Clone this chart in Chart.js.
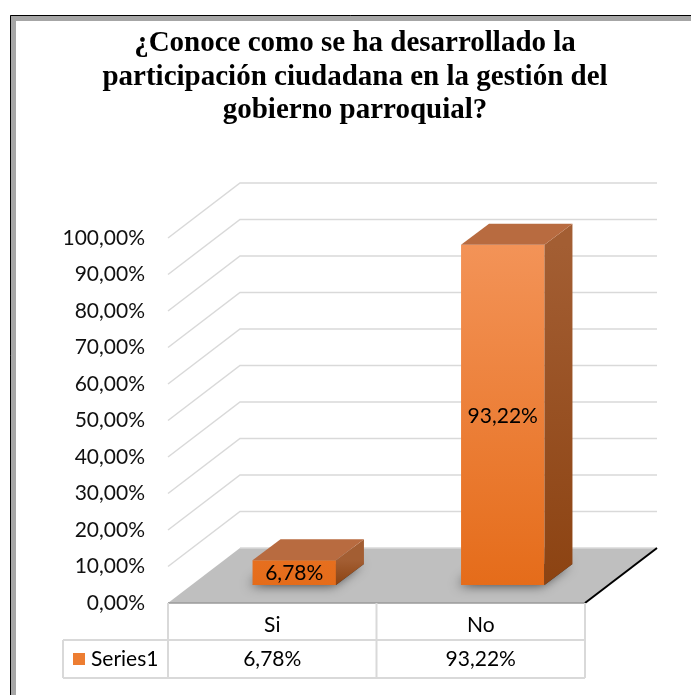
<!DOCTYPE html>
<html>
<head>
<meta charset="utf-8">
<script src="https://cdn.jsdelivr.net/npm/chart.js@4.4.0/dist/chart.umd.min.js"></script>
<style>
  html, body { margin: 0; padding: 0; background: #fff; }
  #wrap { width: 691px; height: 695px; }
</style>
</head>
<body>
<div id="wrap"><canvas id="myChart" width="691" height="695"></canvas></div>
<script>
const titleLines = [
  "¿Conoce como se ha desarrollado la",
  "participación ciudadana en la gestión del",
  "gobierno parroquial?"
];
const categories = ["Si", "No"];
const seriesName = "Series1";
const values = [6.78, 93.22];
const yTicks = [0, 10, 20, 30, 40, 50, 60, 70, 80, 90, 100];

const fmt = (v) => v.toFixed(2).replace(".", ",") + "%";
const FONT = "Lato, 'Open Sans', sans-serif";

// 3d look
const wallDX = 72, wallDY = 55;   // depth of floor / walls
const barShiftX = 22, barShiftY = 18; // bars sit inside the floor
const barDX = 28, barDY = 21;     // bar depth

const frame3d = {
  id: "frame3d",
  beforeDraw(chart) {
    const c = chart.ctx;
    c.save();
    c.fillStyle = "#fff";
    c.fillRect(0, 0, chart.width, chart.height);
    // outer border
    c.fillStyle = "#a6a6a6";
    c.fillRect(10, 15, chart.width, 6);
    c.fillRect(10, 15, 6, chart.height);
    c.strokeStyle = "#000";
    c.lineWidth = 1;
    c.beginPath();
    c.moveTo(10.5, chart.height);
    c.lineTo(10.5, 15.5);
    c.lineTo(chart.width, 15.5);
    c.stroke();
    // title
    c.fillStyle = "#000";
    c.font = "bold 29px 'Liberation Serif', 'Times New Roman', serif";
    c.textAlign = "center";
    c.textBaseline = "middle";
    const ys = [44, 78, 111];
    titleLines.forEach((t, i) => c.fillText(t, 355, ys[i]));
    c.restore();
  },
  beforeDatasetsDraw(chart) {
    const c = chart.ctx;
    const y = chart.scales.y;
    const a = chart.chartArea;
    const y0 = y.getPixelForValue(0);
    c.save();
    // floor
    c.fillStyle = "#bfbfbf";
    c.beginPath();
    c.moveTo(a.left, y0);
    c.lineTo(a.right, y0);
    c.lineTo(a.right + wallDX, y0 - wallDY);
    c.lineTo(a.left + wallDX, y0 - wallDY);
    c.closePath();
    c.fill();
    // grid lines on side + back walls
    c.strokeStyle = "#d9d9d9";
    c.lineWidth = 1.5;
    yTicks.forEach((v) => {
      const py = y.getPixelForValue(v);
      c.beginPath();
      if (v > 0) c.moveTo(a.left, py);
      else c.moveTo(a.left + wallDX, py - wallDY);
      c.lineTo(a.left + wallDX, py - wallDY);
      c.lineTo(a.right + wallDX, py - wallDY);
      c.stroke();
    });
    // floor edges
    c.strokeStyle = "#9a9a9a";
    c.lineWidth = 1.5;
    c.beginPath();
    c.moveTo(a.left, y0);
    c.lineTo(a.right, y0);
    c.stroke();
    c.strokeStyle = "#000";
    c.lineWidth = 2;
    c.beginPath();
    c.moveTo(a.right, y0);
    c.lineTo(a.right + wallDX, y0 - wallDY);
    c.stroke();
    // soft shadows at bar bases
    const meta = chart.getDatasetMeta(0);
    meta.data.forEach((bar) => {
      const l = bar.x - bar.width / 2 + barShiftX;
      const r = bar.x + bar.width / 2 + barShiftX;
      const b = bar.base - barShiftY;
      c.save();
      c.shadowColor = "rgba(0,0,0,0.8)";
      c.shadowBlur = 12;
      c.shadowOffsetX = -3;
      c.fillStyle = "rgba(40,40,40,0.9)";
      c.beginPath();
      c.moveTo(l, b);
      c.lineTo(r, b);
      c.lineTo(r + barDX, b - barDY);
      c.lineTo(l + barDX, b - barDY);
      c.closePath();
      c.fill();
      c.restore();
    });
    c.translate(barShiftX, -barShiftY);
  },
  afterDatasetsDraw(chart) {
    const c = chart.ctx;
    const meta = chart.getDatasetMeta(0);
    meta.data.forEach((bar, i) => {
      const l = bar.x - bar.width / 2;
      const r = bar.x + bar.width / 2;
      // side face
      const g = c.createLinearGradient(0, bar.y, 0, bar.base);
      g.addColorStop(0, "#a35e33");
      g.addColorStop(1, "#8c4312");
      c.fillStyle = g;
      c.beginPath();
      c.moveTo(r, bar.y);
      c.lineTo(r + barDX, bar.y - barDY);
      c.lineTo(r + barDX, bar.base - barDY);
      c.lineTo(r, bar.base);
      c.closePath();
      c.fill();
      // top face
      c.fillStyle = "#b86b40";
      c.beginPath();
      c.moveTo(l, bar.y);
      c.lineTo(l + barDX, bar.y - barDY);
      c.lineTo(r + barDX, bar.y - barDY);
      c.lineTo(r, bar.y);
      c.closePath();
      c.fill();
      // value label
      c.fillStyle = "#000";
      c.font = "21px " + FONT;
      c.textAlign = "center";
      c.textBaseline = "middle";
      c.fillText(fmt(values[i]), bar.x, (bar.y + bar.base) / 2 + 1);
    });
    c.restore();
  },
  afterDraw(chart) {
    const c = chart.ctx;
    const a = chart.chartArea;
    const x = chart.scales.x;
    const top = a.bottom, row1 = top + 37, row2 = top + 75;
    const legL = 63;
    const px = categories.map((_, i) => x.getPixelForValue(i));
    const bounds = [a.left];
    for (let i = 0; i < px.length - 1; i++) bounds.push((px[i] + px[i + 1]) / 2);
    bounds.push(a.right);
    c.save();
    c.strokeStyle = "#d9d9d9";
    c.lineWidth = 2;
    c.beginPath();
    bounds.forEach((bx) => { c.moveTo(bx, top); c.lineTo(bx, row2); });
    c.moveTo(legL, row1); c.lineTo(a.right, row1);
    c.moveTo(legL, row2); c.lineTo(a.right, row2);
    c.moveTo(legL, row1); c.lineTo(legL, row2);
    c.stroke();
    // legend key
    c.fillStyle = "#ed7d31";
    c.fillRect(legL + 10, row1 + 13, 12, 12);
    c.fillStyle = "#000";
    c.font = "21px " + FONT;
    c.textBaseline = "middle";
    c.textAlign = "left";
    c.fillText(seriesName, legL + 28, row1 + 19);
    c.textAlign = "center";
    values.forEach((v, i) => c.fillText(fmt(v), px[i], row1 + 19));
    c.restore();
  }
};

const ctx = document.getElementById("myChart").getContext("2d");
const myChart = new Chart(ctx, {
  type: "bar",
  data: {
    labels: categories,
    datasets: [
      {
        label: seriesName,
        data: values,
        backgroundColor: (cx) => {
          const area = cx.chart.chartArea;
          if (!area) return "#ed7d31";
          const g = cx.chart.ctx.createLinearGradient(0, area.top, 0, area.bottom);
          g.addColorStop(0, "#f4965c");
          g.addColorStop(1, "#e56c1a");
          return g;
        },
        borderWidth: 0,
        barPercentage: 0.4,
        categoryPercentage: 1,
      },
    ],
  },
  plugins: [frame3d],
  options: {
    responsive: false,
    animation: false,
    devicePixelRatio: 1,
    layout: { padding: { top: 238, right: 106, bottom: 0, left: 0 } },
    plugins: {
      legend: { display: false },
      tooltip: { enabled: false },
      title: { display: false },
    },
    scales: {
      x: {
        grid: { display: false, drawTicks: false },
        border: { display: false },
        ticks: { padding: 10, color: "#000", font: { family: FONT, size: 21 } },
        afterFit: (s) => { s.height = 92; },
      },
      y: {
        min: 0,
        max: 100,
        grid: { display: false, drawTicks: false },
        border: { display: false },
        ticks: {
          stepSize: 10,
          padding: 23,
          color: "#111",
          font: { family: FONT, size: 21 },
          callback: (v) => fmt(v),
        },
        afterFit: (s) => { s.width = 168; },
      },
    },
  },
});
</script>
</body>
</html>
